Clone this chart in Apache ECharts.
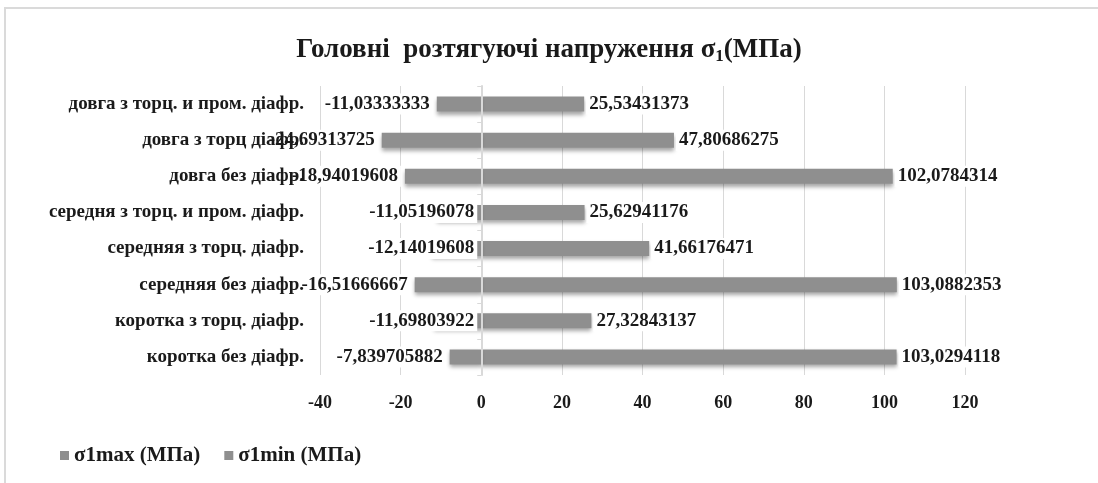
<!DOCTYPE html>
<html>
<head>
<meta charset="utf-8">
<script src="https://cdn.jsdelivr.net/npm/echarts@6/dist/echarts.min.js"></script>
<style>
  html, body { margin: 0; padding: 0; background: #fff; }
  #main { width: 1098px; height: 483px; }
</style>
</head>
<body>
<div id="main"></div>
<script>
// категорії зверху вниз
const categories = [
  'довга з торц. и пром. діафр.',
  'довга з торц діафр.',
  'довга без діафр.',
  'середня з торц. и пром. діафр.',
  'середняя з торц. діафр.',
  'середняя без діафр.',
  'коротка з торц. діафр.',
  'коротка без діафр.'
]
const maxValues = [25.53431373, 47.80686275, 102.0784314, 25.62941176, 41.66176471, 103.0882353, 27.32843137, 103.0294118]
const minValues = [-11.03333333, -24.69313725, -18.94019608, -11.05196078, -12.14019608, -16.51666667, -11.69803922, -7.839705882]
const seriesNames = ['σ1max (МПа)', 'σ1min (МПа)']
const xMin = -40, xMax = 120, xStep = 20

// рядки, де підпис мінімуму стоїть всередині стовпця
const insideRows = [3, 4, 6]

const serif = '"Liberation Serif", "DejaVu Serif", serif'
const barColor = '#8f8f8f'
const fmt = v => String(v).replace('.', ',')

var myChart = echarts.init(document.getElementById('main'))

const labelBox = {
  show: true,
  fontFamily: serif,
  fontWeight: 'bold',
  fontSize: 19,
  color: '#1a1a1a',
  backgroundColor: '#fff',
  padding: [1, 3],
  formatter: p => fmt(p.value)
}
const barShadow = {
  color: barColor,
  shadowColor: 'rgba(0,0,0,0.35)',
  shadowBlur: 4,
  shadowOffsetY: 3
}

var option = {
  animation: false,
  title: {
    text: 'Головні  розтягуючі напруження σ{s|1}(МПа)',
    left: 'center',
    top: 31,
    textStyle: {
      fontFamily: serif,
      fontWeight: 'bold',
      fontSize: 27,
      color: '#1a1a1a',
      rich: {
        s: { fontFamily: serif, fontWeight: 'bold', fontSize: 17, color: '#1a1a1a', padding: [12, 0, 0, 0] }
      }
    }
  },
  legend: {
    data: seriesNames,
    left: 55,
    top: 440,
    itemWidth: 9,
    itemHeight: 9,
    itemGap: 24,
    icon: 'rect',
    textStyle: { fontFamily: serif, fontWeight: 'bold', fontSize: 21, color: '#1a1a1a' }
  },
  graphic: [
    { type: 'rect', shape: { x: 4, y: 7, width: 1094, height: 2 }, style: { fill: '#dadada' } },
    { type: 'rect', shape: { x: 4, y: 7, width: 2, height: 476 }, style: { fill: '#dadada' } }
  ],
  grid: { left: 320, right: 133, top: 86, height: 289, containLabel: false, outerBoundsMode: 'none' },
  xAxis: {
    type: 'value',
    min: xMin,
    max: xMax,
    interval: xStep,
    axisLine: { show: false },
    axisTick: { show: false },
    splitLine: { lineStyle: { color: '#d9d9d9', width: 1 } },
    axisLabel: { margin: 19, fontFamily: serif, fontWeight: 'bold', fontSize: 18, color: '#1a1a1a' }
  },
  yAxis: {
    type: 'category',
    data: categories,
    inverse: true,
    z: 3,
    axisLine: { onZero: true, lineStyle: { color: '#d9d9d9', width: 2 } },
    axisTick: { show: true, length: 4, lineStyle: { color: '#d9d9d9' } },
    axisLabel: {
      margin: 16,
      fontFamily: serif,
      fontWeight: 'bold',
      fontSize: 19,
      color: '#1a1a1a'
    }
  },
  series: [
    {
      name: seriesNames[0],
      type: 'bar',
      data: maxValues,
      barWidth: 15,
      barGap: '-100%',
      itemStyle: barShadow,
      label: Object.assign({}, labelBox, { position: 'right', distance: 2 })
    },
    {
      name: seriesNames[1],
      type: 'bar',
      data: minValues.map((v, i) => insideRows.includes(i)
        ? { value: v, label: { position: 'insideRight', distance: 4 } }
        : v),
      barWidth: 15,
      barGap: '-100%',
      itemStyle: barShadow,
      label: Object.assign({}, labelBox, { position: 'left', distance: 4 })
    }
  ]
}

myChart.setOption(option)
</script>
</body>
</html>
